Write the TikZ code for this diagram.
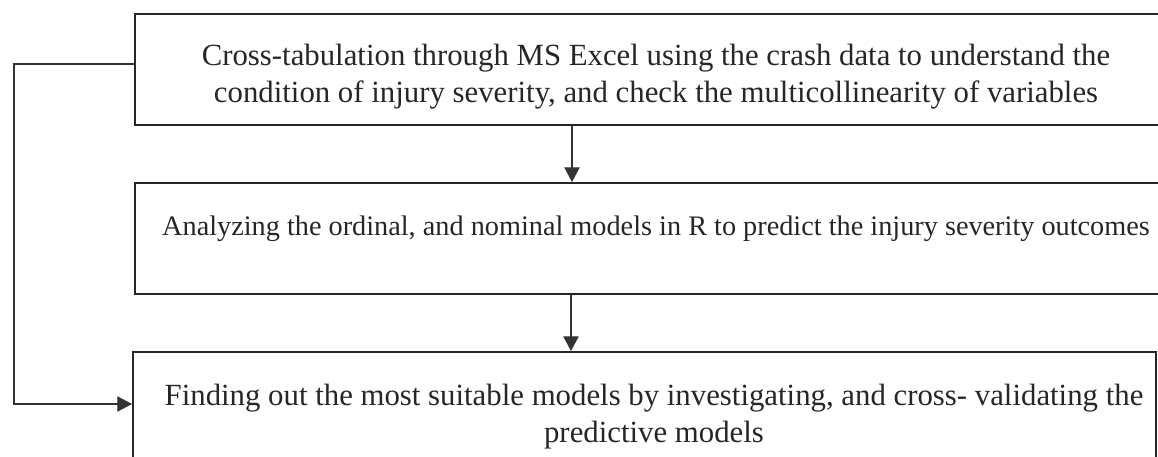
\documentclass[tikz,border=0pt]{standalone}
\usepackage{fontspec}
\setmainfont{Liberation Serif}
\usetikzlibrary{arrows.meta}
\begin{document}
\begin{tikzpicture}[x=0.75pt,y=-0.75pt,
  box/.style={draw=black!85, line width=1.5pt, rectangle, inner sep=0pt, anchor=north west},
  txt/.style={align=center, inner sep=0pt, font=\fontsize{23.1pt}{27.75pt}\selectfont, text=black!85},
  conn/.style={draw=black!80, line width=0.8pt},
  arr/.style={conn, -{Triangle[length=11pt,width=11.5pt]}}]
\useasboundingbox (0,0) rectangle (1158,457);
\node[box, minimum width=769.5pt, minimum height=83.25pt] (b1) at (134,13) {};
\node[box, minimum width=769.5pt, minimum height=83.25pt] (b2) at (134,182) {};
\node[box, minimum width=767.25pt, minimum height=89.25pt] (b3) at (132,351) {};
\node[txt, anchor=base] (t1) at (656,102) {Cross-tabulation through MS Excel using the crash data to understand the\\condition of injury severity, and check the multicollinearity of variables};
\node[txt, anchor=base, font=\fontsize{21.2pt}{27.75pt}\selectfont] (t2) at (656,235) {Analyzing the ordinal, and nominal models in R to predict the injury severity outcomes};
\node[txt, anchor=base] (t3) at (654,442) {Finding out the most suitable models by investigating, and cross- validating the\\predictive models};
\coordinate (c1) at (572,0);
\coordinate (c2) at (571,0);
\coordinate (cl) at (14,0);
\draw[arr] (b1.south -| c1) -- (b2.north -| c1);
\draw[arr] (b2.south -| c2) -- (b3.north -| c2);
\coordinate (l1) at (b1.west |- 0,64);
\coordinate (l3) at (b3.west |- 0,404);
\draw[arr] (l1) -- (l1 -| cl) -- (l3 -| cl) -- (l3);
\end{tikzpicture}
\end{document}
